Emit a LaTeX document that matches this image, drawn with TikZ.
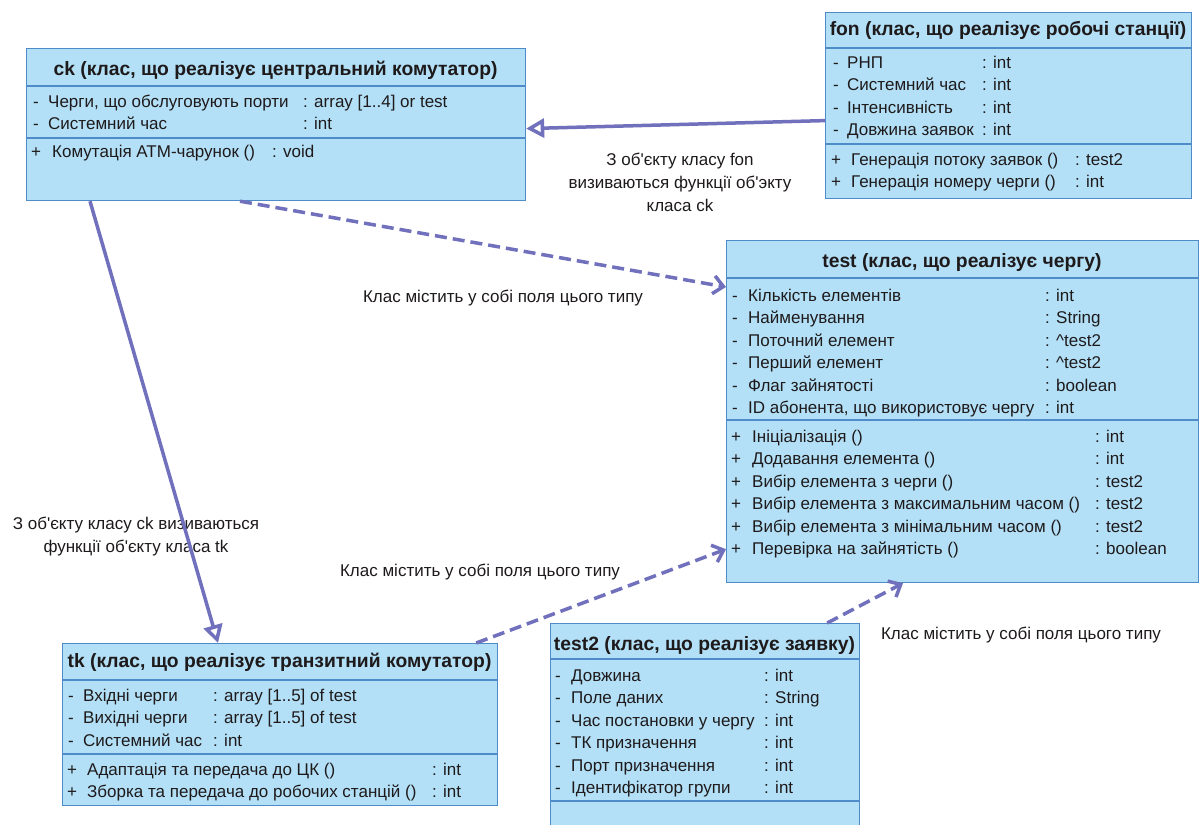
\documentclass[tikz,border=0pt]{standalone}
\usepackage{fontspec}
\setmainfont{Liberation Sans}
\usetikzlibrary{arrows.meta}
\definecolor{color_uml_fill}{HTML}{B3E0F7}
\definecolor{color_uml_border}{HTML}{4F8BC9}
\definecolor{color_uml_link}{HTML}{7070BC}
\definecolor{color_uml_text}{HTML}{1E1A1B}
\def\umllinkwidth{3.5pt}
\def\umlboxwidth{1.2pt}
\def\umltable#1#2#3{\begin{tabular}[t]{@{}p{#1}@{}p{#2}@{}l@{}}#3\end{tabular}}

\begin{document}
\begin{tikzpicture}[x=1pt, y=-1pt,
    classbox/.style={draw=color_uml_border, fill=color_uml_fill, line width=\umlboxwidth, anchor=north west, inner sep=0pt},
    classline/.style={draw=color_uml_border, line width=\umlboxwidth},
    classtitle/.style={anchor=base, inner sep=0pt, text=color_uml_text, font=\fontsize{19.3}{23}\selectfont\bfseries},
    classrows/.style={anchor=base west, inner sep=0pt, text=color_uml_text, font=\fontsize{17}{22.5}\selectfont},
    linklabel/.style={align=center, inner sep=0pt, text=color_uml_text, font=\fontsize{17}{23}\selectfont},
    calllink/.style={draw=color_uml_link, line width=\umllinkwidth, -{Triangle[open, length=18pt, width=19pt]}},
    fieldlink/.style={draw=color_uml_link, line width=\umllinkwidth, dash pattern=on 12pt off 6pt, -{Straight Barb[length=10pt, width=18pt]}}]
        \path[use as bounding box, fill=white] (0,0) rectangle (1200,825);
        % class boxes
        \node[classbox, minimum width=499pt, minimum height=152pt] (ck) at (26,48) {};
        \node[classbox, minimum width=366pt, minimum height=186pt] (fon) at (825,12) {};
        \node[classbox, minimum width=472pt, minimum height=342pt] (test) at (726,240) {};
        \node[classbox, minimum width=435pt, minimum height=162pt] (tk) at (62,643) {};
        \node[classbox, minimum width=309pt, minimum height=214pt] (test2) at (550,623) {};
        \foreach \cls/\ya/\yb in {ck/38/90, fon/36/132, test/38/180, tk/37/111, test2/36/178} {
            \draw[classline] ([yshift=-\ya pt]\cls.north west) -- ([yshift=-\ya pt]\cls.north east);
            \draw[classline] ([yshift=-\yb pt]\cls.north west) -- ([yshift=-\yb pt]\cls.north east);
        }
        % titles
        \node[classtitle] (cktitle) at (275.5,75) {ck (клас, що реалізує центральний комутатор)};
        \node[classtitle] (fontitle) at (1008,35) {fon (клас, що реалізує робочі станції)};
        \node[classtitle] (testtitle) at (962,267) {test (клас, що реалізує чергу)};
        \node[classtitle] (tktitle) at (279.5,667) {tk (клас, що реалізує транзитний комутатор)};
        \node[classtitle] (test2title) at (704.5,650) {test2 (клас, що реалізує заявку)};
        % fields and methods
        \node[classrows] (ckattr) at (33,107) {\umltable{15pt}{255pt}{
            - & Черги, що обслуговують порти & : array [1..4] or test\\
            - & Системний час & : int}};
        \node[classrows] (ckmeth) at (31,157) {\umltable{21pt}{220pt}{
            + & Комутація АТМ-чарунок () & : void}};
        \node[classrows] (fonattr) at (833,68) {\umltable{14pt}{135pt}{
            - & РНП & : int\\
            - & Системний час & : int\\
            - & Інтенсивність & : int\\
            - & Довжина заявок & : int}};
        \node[classrows] (fonmeth) at (831,165) {\umltable{20pt}{224pt}{
            + & Генерація потоку заявок () & : test2\\
            + & Генерація номеру черги () & : int}};
        \node[classrows] (testattr) at (732,301) {\umltable{16pt}{297pt}{
            - & Кількість елементів & : int\\
            - & Найменування & : String\\
            - & Поточний елемент & : \textasciicircum test2\\
            - & Перший елемент & : \textasciicircum test2\\
            - & Флаг зайнятості & : boolean\\
            - & ID абонента, що використовує чергу & : int}};
        \node[classrows] (testmeth) at (731,442) {\umltable{21pt}{343pt}{
            + & Ініціалізація () & : int\\
            + & Додавання елемента () & : int\\
            + & Вибір елемента з черги () & : test2\\
            + & Вибір елемента з максимальним часом () & : test2\\
            + & Вибір елемента з мінімальним часом () & : test2\\
            + & Перевірка на зайнятість () & : boolean}};
        \node[classrows] (tkattr) at (68,701) {\umltable{15pt}{130pt}{
            - & Вхідні черги & : array [1..5] of test\\
            - & Вихідні черги & : array [1..5] of test\\
            - & Системний час & : int}};
        \node[classrows] (tkmeth) at (67,775) {\umltable{20pt}{345pt}{
            + & Адаптація та передача до ЦК () & : int\\
            + & Зборка та передача до робочих станцій () & : int}};
        \node[classrows] (test2attr) at (555,681) {\umltable{16pt}{193pt}{
            - & Довжина & : int\\
            - & Поле даних & : String\\
            - & Час постановки у чергу & : int\\
            - & ТК призначення & : int\\
            - & Порт призначення & : int\\
            - & Ідентифікатор групи & : int}};
        % link labels
        \node[linklabel] (fonlabel) at (680,182) {З об\textquotesingle єкту класу fon\\визиваються функції об\textquotesingle экту\\класа ck};
        \node[linklabel] (cklabel) at (136,537) {З об\textquotesingle єкту класу ck визиваються\\функції об\textquotesingle єкту класа tk};
        \node[linklabel] (fieldlabela) at (503,298) {Клас містить у собі поля цього типу};
        \node[linklabel] (fieldlabelb) at (480,572) {Клас містить у собі поля цього типу};
        \node[linklabel] (fieldlabelc) at (1021,635) {Клас містить у собі поля цього типу};
        % links
        \draw[calllink] ([yshift=-15pt]fon.west) -- ([yshift=-4pt]ck.east);
        \draw[calllink] ([xshift=64pt]ck.south west) -- ([xshift=156pt]tk.north west);
        \draw[fieldlink] ([xshift=214pt]ck.south west) -- ([yshift=-47pt]test.north west);
        \draw[fieldlink] ([xshift=-22pt]tk.north east) -- ([yshift=34pt]test.south west);
        \draw[fieldlink] ([xshift=-33pt]test2.north east) -- ([xshift=177pt]test.south west);
\end{tikzpicture}
\end{document}
